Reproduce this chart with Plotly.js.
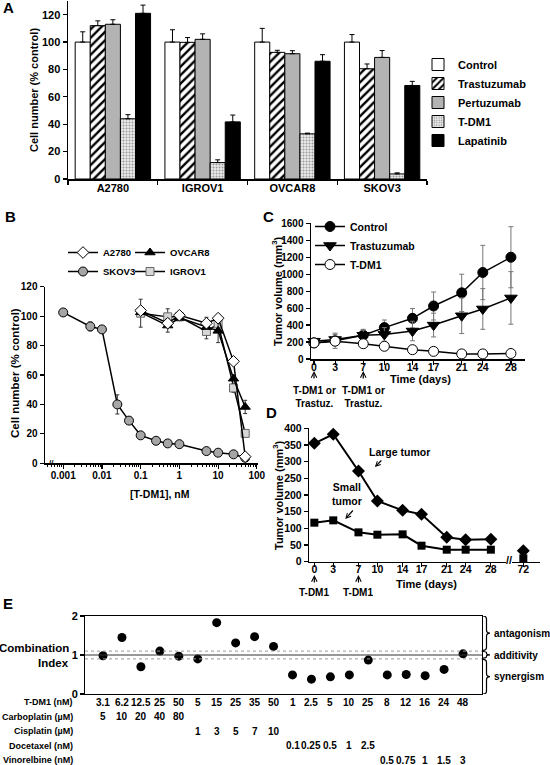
<!DOCTYPE html>
<html><head><meta charset="utf-8">
<script src="https://cdn.plot.ly/plotly-3.0.1.min.js"></script>
<style>html,body{margin:0;padding:0;background:#fff}</style>
</head><body><div id="chart" style="width:550px;height:765px"></div>
<script>
// ---------- Panel A ----------
const aCells = ['A2780','IGROV1','OVCAR8','SKOV3'];
const aControl = [100,100,100,100];
const aControlErr = [7.5,9,10,5.5];
const aTrast = [112,99.8,92.5,80.5];
const aTrastErr = [3.5,3.5,1.5,3.5];
const aPert = [113,102,91.5,88.8];
const aPertErr = [3.3,4,2.2,5];
const aTdm1 = [44,12,33,3.7];
const aTdm1Err = [3,2,0.5,0.8];
const aLap = [121,41.7,86,68.3];
const aLapErr = [6,5,4.8,3];

// ---------- Panel B ----------
const bConcSkov3 = [0.001,0.005,0.01,0.025,0.05,0.1,0.25,0.5,1,5,10,25,50];
const bSkov3 = [102.5,93,91,40,29,19,15.3,13.5,13,8.3,7.2,6.1,3.8];
const bSkov3Err = [0,3,0,6.5,0,0,0,0,0,0,0,0,0];
const bConc = [0.1,0.5,1,5,10,25,50];
const bA2780 = [103.8,95.2,100.6,95.2,98.6,69.3,4.5];
const bA2780Err = [0,0,2,4,0,0,0];
const bOvcar8 = [102.6,93.6,98.8,92.5,90,57.5,38.3];
const bOvcar8Err = [0,4.5,0,0,8,0,4.5];
const bIgrov1 = [102,99.5,99.5,89.6,94.7,51.2,20.3];
const bIgrov1Err = [9.5,5.5,0,5,0,3,0];
const bTickVals = [0.001,0.01,0.1,1,10,100];
const bTickText = ['0.001','0.01','0.1','1','10','100'];

// ---------- Panel C ----------
const cDays = [0,3,7,10,14,17,21,24,28];
const cControl = [190,215,280,370,480,625,780,1020,1200];
const cControlErr = [40,90,70,90,115,165,220,320,360];
const cTrast = [210,230,280,290,330,400,510,590,720];
const cTrastErr = [30,60,60,80,115,140,210,240,310];
const cTdm1 = [190,210,180,150,110,90,60,60,65];
const cTdm1Err = [30,30,40,20,20,15,10,10,10];

// ---------- Panel D ----------
const dDays = [0,3,7,10,14,17,21,24,28,72];
const dLarge = [355,382,272,182,154,142,73,66,67,33];
const dSmall = [117,124,88,81,82,48,36,36,36,10];

// ---------- Panel E ----------
const eTdm1 = ['3.1','6.2','12.5','25','50','5','15','25','35','50','1','2.5','5','10','25','8','12','16','24','48'];
const eCI = [0.98,1.45,0.7,1.1,0.97,0.9,1.83,1.31,1.47,1.22,0.49,0.38,0.44,0.49,0.87,0.49,0.5,0.47,0.63,1.03];
const eCarboplatin = ['5','10','20','40','80','','','','','','','','','','','','','','',''];
const eCisplatin   = ['','','','','','1','3','5','7','10','','','','','','','','','',''];
const eDocetaxel   = ['','','','','','','','','','','0.1','0.25','0.5','1','2.5','','','','',''];
const eVinorelbine = ['','','','','','','','','','','','','','','','0.5','0.75','1','1.5','3'];
const eRowLabels = ['T-DM1 (nM)','Carboplatin (µM)','Cisplatin (µM)','Docetaxel (nM)','Vinorelbine (nM)'];

// ---------- helpers ----------
const FONT = 'Liberation Sans, Arial, Helvetica, sans-serif';
const W = 550, H = 765;
const px = x => x / W;
const py = y => 1 - y / H;
const f = (size, color) => ({family: FONT, size: size, color: color || '#000', weight: 'bold'});
const axisBase = extra => Object.assign({
  showline: true, linecolor: '#000', linewidth: 1.5, ticks: 'outside', ticklen: 4,
  tickwidth: 1.2, tickcolor: '#000', showgrid: false, zeroline: false,
  tickfont: f(10), fixedrange: true
}, extra);

const traces = [];

// Panel A bars
const zerosA = aCells.map(() => 0);
function barTrace(name, y, err, marker) {
  return {type: 'bar', name: name, x: aCells, y: y, xaxis: 'x', yaxis: 'y', legend: 'legend',
    marker: Object.assign({line: {color: '#000', width: 1}}, marker),
    error_y: {type: 'data', symmetric: false, array: err, arrayminus: zerosA, color: '#000', thickness: 1, width: 2.5}};
}
traces.push(barTrace('Control', aControl, aControlErr, {color: '#ffffff'}));
traces.push(barTrace('Trastuzumab', aTrast, aTrastErr, {color: '#ffffff', pattern: {shape: '/', fgcolor: '#000', bgcolor: '#fff', size: 6, solidity: 0.4}}));
traces.push(barTrace('Pertuzumab', aPert, aPertErr, {color: '#b3b3b3'}));
traces.push(barTrace('T-DM1', aTdm1, aTdm1Err, {color: '#e4e4e4', pattern: {shape: '.', fgcolor: '#9a9a9a', bgcolor: '#ececec', size: 3, solidity: 0.35}}));
traces.push(barTrace('Lapatinib', aLap, aLapErr, {color: '#000000'}));

// Panel B
function bTrace(name, x, y, err, sym, size, fill, lc, legend, rank) {
  return {type: 'scatter', mode: 'lines+markers', name: name, x: x, y: y, xaxis: 'x2', yaxis: 'y2',
    legend: legend, legendrank: rank, cliponaxis: false,
    line: {color: '#000', width: 1.5},
    marker: {symbol: sym, size: size, color: fill, line: {color: lc, width: 1}},
    error_y: {type: 'data', array: err, color: '#333', thickness: 1, width: 2}};
}
traces.push(bTrace('SKOV3', bConcSkov3, bSkov3, bSkov3Err, 'circle', 9, '#a6a6a6', '#000', 'legend2', 2));
traces.push(bTrace('IGROV1', bConc, bIgrov1, bIgrov1Err, 'square', 8, '#d6d6d6', '#666', 'legend3', 2));
traces.push(bTrace('OVCAR8', bConc, bOvcar8, bOvcar8Err, 'triangle-up', 9, '#000', '#000', 'legend3', 1));
traces.push(bTrace('A2780', bConc, bA2780, bA2780Err, 'diamond', 9, '#fff', '#000', 'legend2', 1));

// Panel C
function cTrace(name, y, err, sym, size, fill) {
  return {type: 'scatter', mode: 'lines+markers', name: name, x: cDays, y: y, xaxis: 'x3', yaxis: 'y3',
    legend: 'legend4', cliponaxis: false,
    line: {color: '#000', width: 1.5},
    marker: {symbol: sym, size: size, color: fill, line: {color: '#000', width: 1}},
    error_y: {type: 'data', array: err, color: '#777', thickness: 1, width: 2.5}};
}
traces.push(cTrace('Control', cControl, cControlErr, 'circle', 10, '#000'));
traces.push(cTrace('Trastuzumab', cTrast, cTrastErr, 'triangle-down', 11, '#000'));
traces.push(cTrace('T-DM1', cTdm1, cTdm1Err, 'circle', 10, '#fff'));

// Panel D
const nMain = 9;
function dTrace(y, sym, size, main) {
  const xs = main ? dDays.slice(0, nMain) : dDays.slice(nMain);
  const ys = main ? y.slice(0, nMain) : y.slice(nMain);
  return {type: 'scatter', mode: main ? 'lines+markers' : 'markers', x: xs, y: ys,
    xaxis: main ? 'x4' : 'x6', yaxis: 'y4', showlegend: false, cliponaxis: false,
    line: {color: '#000', width: 2}, marker: {symbol: sym, size: size, color: '#000'}};
}
traces.push(dTrace(dLarge, 'diamond', 10, true));
traces.push(dTrace(dSmall, 'square', 8, true));
traces.push(dTrace(dLarge, 'diamond', 10, false));
traces.push(dTrace(dSmall, 'square', 8, false));

// Panel E
const eIdx = eTdm1.map((_, i) => i);
traces.push({type: 'scatter', mode: 'markers', x: eIdx, y: eCI, xaxis: 'x5', yaxis: 'y5',
  showlegend: false, cliponaxis: false, marker: {symbol: 'circle', size: 9, color: '#000'}});

// ---------- annotations ----------
const ann = [];
function txt(text, x, y, size, opts) {
  ann.push(Object.assign({text: text, x: x, y: y, xref: 'paper', yref: 'paper', showarrow: false,
    font: f(size), xanchor: 'center', yanchor: 'middle'}, opts || {}));
}
// panel letters
txt('A', px(1), py(8), 15, {xanchor: 'left'});
txt('B', px(3), py(216), 15, {xanchor: 'left'});
txt('C', px(261), py(216), 15, {xanchor: 'left'});
txt('D', px(264), py(412), 15, {xanchor: 'left'});
txt('E', px(1), py(603), 15, {xanchor: 'left'});
// axis titles
txt('Cell number (% control)', px(34), py(90), 11, {textangle: -90});
txt('Cell number (% control)', px(15), py(373), 11.5, {textangle: -90});
txt('[T-DM1], nM', px(160), py(494), 10.5);
txt('Tumor volume (mm<sup>3</sup>)', px(277), py(291), 11, {textangle: -90});
txt('Tumor volume (mm<sup>3</sup>)', px(278), py(495), 11, {textangle: -90});
txt('Time (days)', px(420), py(379), 11);
txt('Time (days)', px(426), py(584), 11);
// axis breaks
txt('//', px(51), py(463), 8, {font: {family: FONT, size: 8, color: '#000'}});
txt('//', px(509), py(560), 11, {font: {family: FONT, size: 11, color: '#000'}});

// dosing arrows
[0, 7].forEach(d => {
  ann.push({text: '', x: d, xref: 'x3', y: py(371), yref: 'paper', showarrow: true,
    ax: 0, ay: 9, arrowhead: 5, arrowsize: 0.9, arrowwidth: 1.2, arrowcolor: '#000'});
  ann.push({text: 'T-DM1 or<br>Trastuz.', x: d, xref: 'x3', y: py(397), yref: 'paper', showarrow: false,
    font: f(10), xanchor: 'center', yanchor: 'middle'});
  ann.push({text: '', x: d, xref: 'x4', y: py(575), yref: 'paper', showarrow: true,
    ax: 0, ay: 9, arrowhead: 5, arrowsize: 0.9, arrowwidth: 1.2, arrowcolor: '#000'});
  ann.push({text: 'T-DM1', x: d, xref: 'x4', y: py(592), yref: 'paper', showarrow: false,
    font: f(10), xanchor: 'center', yanchor: 'middle'});
});
// D labels
ann.push({text: 'Large tumor', x: 13.5, xref: 'x4', y: 330, yref: 'y4', showarrow: false, font: f(10.5)});
ann.push({text: '', x: 9.6, xref: 'x4', y: 284, yref: 'y4', showarrow: true, ax: 8, ay: -8,
  arrowhead: 5, arrowsize: 0.8, arrowwidth: 1.2, arrowcolor: '#000'});
ann.push({text: 'Small<br>tumor', x: 5.2, xref: 'x4', y: 203, yref: 'y4', showarrow: false, font: f(10.5)});
ann.push({text: '', x: 4.9, xref: 'x4', y: 128, yref: 'y4', showarrow: true, ax: 9, ay: -10,
  arrowhead: 5, arrowsize: 0.8, arrowwidth: 1.2, arrowcolor: '#000'});

// E labels
txt('Combination', px(71), py(648), 11.5, {xanchor: 'right'});
txt('Index', px(71), py(663), 11.5, {xanchor: 'right'});
const rowY = [702, 716.5, 731, 745.5, 760];
eRowLabels.forEach((lab, r) => txt(lab, px(75), py(rowY[r]), 9, {xanchor: 'right'}));
[eTdm1, eCarboplatin, eCisplatin, eDocetaxel, eVinorelbine].forEach((row, r) => {
  row.forEach((v, i) => {
    if (v !== '') ann.push({text: v, x: i, xref: 'x5', y: py(rowY[r]), yref: 'paper',
      showarrow: false, font: f(10), xanchor: 'center', yanchor: 'middle'});
  });
});
ann.push({text: 'antagonism', x: px(492), xref: 'paper', y: 1.56, yref: 'y5', showarrow: false, font: f(10), xanchor: 'left'});
ann.push({text: 'additivity', x: px(492), xref: 'paper', y: 1.0, yref: 'y5', showarrow: false, font: f(10), xanchor: 'left'});
ann.push({text: 'synergism', x: px(492), xref: 'paper', y: 0.45, yref: 'y5', showarrow: false, font: f(10), xanchor: 'left'});

// ---------- shapes ----------
const shapes = [];
[[1.1, 'dot', '#999', 1], [1.0, 'solid', '#333', 1.2], [0.9, 'dot', '#999', 1]].forEach(s => {
  shapes.push({type: 'line', xref: 'x5 domain', yref: 'y5', x0: 0, x1: 1, y0: s[0], y1: s[0],
    line: {color: s[2], width: s[3], dash: s[1]}});
});
function brace(yT, yB, r) {
  const x0 = px(483), xm = px(486.5), x1 = px(490);
  const yM = (yT + yB) / 2;
  return `M${x0},${yT} Q${xm},${yT} ${xm},${yT - r} L${xm},${yM + r} Q${xm},${yM} ${x1},${yM} ` +
         `Q${xm},${yM} ${xm},${yM - r} L${xm},${yB + r} Q${xm},${yB} ${x0},${yB}`;
}
[[2.0, 1.12, 0.08], [1.09, 0.92, 0.035], [0.89, 0.0, 0.08]].forEach(b => {
  shapes.push({type: 'path', xref: 'paper', yref: 'y5', path: brace(b[0], b[1], b[2]),
    line: {color: '#000', width: 1.2}});
});

// ---------- layout ----------
const legBase = {bgcolor: 'rgba(0,0,0,0)', borderwidth: 0, xanchor: 'left', yanchor: 'top',
  orientation: 'v', tracegroupgap: 0, itemwidth: 30, traceorder: 'normal'};
const layout = {
  width: W, height: H, margin: {l: 0, r: 0, t: 0, b: 0},
  paper_bgcolor: '#fff', plot_bgcolor: 'rgba(0,0,0,0)',
  font: f(10), showlegend: true,
  barmode: 'group', bargap: 0.16, bargroupgap: 0,
  legend: Object.assign({}, legBase, {x: px(418), y: py(50), font: f(11)}),
  legend2: Object.assign({}, legBase, {x: px(63), y: py(238), font: f(9.5)}),
  legend3: Object.assign({}, legBase, {x: px(130), y: py(238), font: f(9.5)}),
  legend4: Object.assign({}, legBase, {x: px(310), y: py(212), font: f(10.5)}),
  xaxis: axisBase({domain: [px(68), px(427)], anchor: 'y', type: 'category', tickson: 'boundaries', tickfont: f(11), ticklabelstandoff: -2}),
  yaxis: axisBase({domain: [py(179), py(1)], anchor: 'x', range: [0, 130], tickvals: [0,20,40,60,80,100,120], tickfont: f(11)}),
  xaxis2: axisBase({domain: [px(45), px(258)], anchor: 'y2', type: 'log', range: [-3.47, 2.03],
    tickmode: 'array', tickvals: bTickVals, ticktext: bTickText, tickfont: f(10), ticklabelstandoff: -2,
    minor: {ticks: 'outside', ticklen: 2.5, tickcolor: '#000', tickwidth: 1, dtick: 'D1'}}),
  yaxis2: axisBase({domain: [py(463.3), py(286.7)], anchor: 'x2', range: [0, 120], dtick: 20, tickfont: f(10)}),
  xaxis3: axisBase({domain: [px(311), px(525)], anchor: 'y3', range: [-0.43, 30], tickmode: 'array', tickvals: cDays, tickfont: f(10.5), ticklabelstandoff: -6}),
  yaxis3: axisBase({domain: [py(359), py(223.3)], anchor: 'x3', range: [0, 1600], dtick: 200, tickfont: f(10)}),
  xaxis4: axisBase({domain: [px(309.3), px(506)], anchor: 'y4', range: [-0.8, 30.4], tickmode: 'array', tickvals: dDays.slice(0, nMain), tickfont: f(10.5), ticklabelstandoff: -7}),
  xaxis6: axisBase({domain: [px(512), px(540)], anchor: 'y4', range: [70.2, 74.65], tickmode: 'array', tickvals: dDays.slice(nMain), tickfont: f(10.5), ticklabelstandoff: -7}),
  yaxis4: axisBase({domain: [py(561.7), py(428.3)], anchor: 'x4', range: [0, 400], dtick: 50, tickfont: f(10.5)}),
  xaxis5: axisBase({domain: [px(85), px(482)], anchor: 'y5', range: [-0.95, 20], tickmode: 'array',
    tickvals: eIdx, showticklabels: false, ticks: '', linewidth: 1, mirror: true}),
  yaxis5: axisBase({domain: [py(694), py(616)], anchor: 'x5', range: [0, 2], dtick: 1, linewidth: 1, mirror: true, tickfont: f(11)}),
  annotations: ann,
  shapes: shapes
};

Plotly.newPlot('chart', traces, layout, {staticPlot: true, displayModeBar: false});
</script>
</body></html>
